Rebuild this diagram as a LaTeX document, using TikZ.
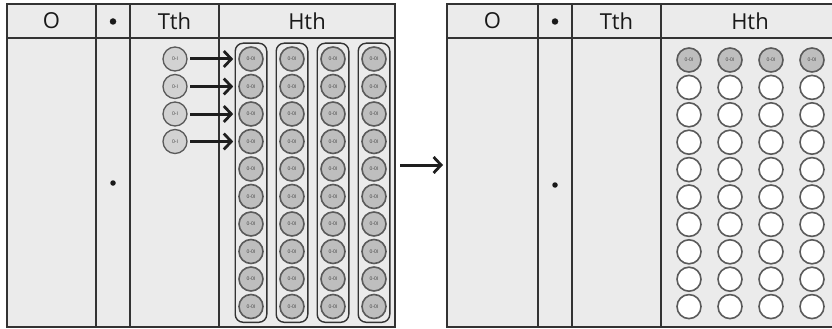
\documentclass[tikz,border=0pt]{standalone}
\usepackage{fontspec}
\setmainfont{Open Sans}
\usetikzlibrary{arrows.meta,fit}

\definecolor{panelbg}{HTML}{EBEBEB}
\definecolor{rulecol}{HTML}{333333}
\definecolor{counterfill}{HTML}{BEBEBE}
\definecolor{tensfill}{HTML}{D2D2D2}
\definecolor{ringcol}{HTML}{5A5A5A}
\definecolor{arrowcol}{HTML}{1E1E1E}

\tikzset{
  panelrule/.style={draw=rulecol, line width=1.7pt},
  headtext/.style={font=\fontsize{22}{26}\selectfont, text=black!90},
  headdot/.style={circle, fill=black!90, inner sep=0pt, minimum size=6.5pt},
  tenscounter/.style={circle, minimum size=24pt, inner sep=0pt, fill=tensfill,
    draw=ringcol, line width=1.3pt, font=\fontsize{5}{6}\selectfont, text=black!75},
  hundcounter/.style={circle, minimum size=24pt, inner sep=0pt, fill=counterfill,
    draw=ringcol, line width=1.6pt, font=\fontsize{5}{6}\selectfont, text=black!75},
  emptycounter/.style={circle, minimum size=24pt, inner sep=0pt, fill=white,
    draw=ringcol, line width=1.6pt},
  groupbox/.style={draw=rulecol, line width=1.4pt, rounded corners=8pt, inner sep=3pt},
  movearrow/.style={draw=arrowcol, line width=3pt,
    -{Straight Barb[length=7.5pt,width=16pt,line width=2.8pt]}},
}

\begin{document}
\begin{tikzpicture}[x=1pt,y=-1pt]
\useasboundingbox (0,0) rectangle (832,329);
\clip (0,0) rectangle (832,329);

% ---------- left place-value chart ----------
\fill[panelbg] (7,4) rectangle (395,327);
\draw[panelrule] (7,4) rectangle (395,327);
\draw[panelrule] (7,38) -- (395,38);
\draw[panelrule] (96,4) -- (96,327);
\draw[panelrule] (130,4) -- (130,327);
\draw[panelrule] (219,4) -- (219,327);
\node[headtext] (lO) at (51.5,21) {O};
\node[headdot] (lDot) at (113,21.5) {};
\node[headtext] (lT) at (174.5,21) {Tth};
\node[headtext] (lH) at (307,21) {Hth};
\node[headdot, minimum size=5.5pt] (lPoint) at (113,183) {};

% hundred-thousandths counters, four groups of ten
\foreach \c/\x in {1/251,2/292,3/333,4/374}{
  \foreach \r in {1,...,10}{
    \node[hundcounter] (h\c-\r) at (\x,{59+(\r-1)*27.5}) {0-0I};
  }
  \node[groupbox, fit=(h\c-1)(h\c-10)] (g\c) {};
}

% ten-thousandths counters, each exchanged for a group
\foreach \r in {1,...,4}{
  \node[tenscounter] (t\r) at (175,{59+(\r-1)*27.5}) {0-I};
  \draw[movearrow, shorten <=2.5pt, shorten >=5pt] (t\r) -- (h1-\r);
}

% ---------- exchange arrow ----------
\coordinate (exA) at (400,165);
\coordinate (exB) at (443,165);
\draw[movearrow] (exA) -- (exB);

% ---------- right place-value chart ----------
\fill[panelbg] (447,4) rectangle (840,327);
\draw[panelrule] (447,4) rectangle (840,327);
\draw[panelrule] (447,38) -- (840,38);
\draw[panelrule] (538,4) -- (538,327);
\draw[panelrule] (572,4) -- (572,327);
\draw[panelrule] (661,4) -- (661,327);
\node[headtext] (rO) at (492.5,21) {O};
\node[headdot] (rDot) at (555,21.5) {};
\node[headtext] (rT) at (616.5,21) {Tth};
\node[headtext] (rH) at (750,21) {Hth};
\node[headdot, minimum size=5.5pt] (rPoint) at (555,185) {};

\foreach \c/\x in {1/689,2/730,3/771,4/812}{
  \node[hundcounter] (k\c-1) at (\x,60) {0-0I};
  \foreach \r in {2,...,10}{
    \node[emptycounter] (k\c-\r) at (\x,{60+(\r-1)*27.4}) {};
  }
}
\end{tikzpicture}
\end{document}
